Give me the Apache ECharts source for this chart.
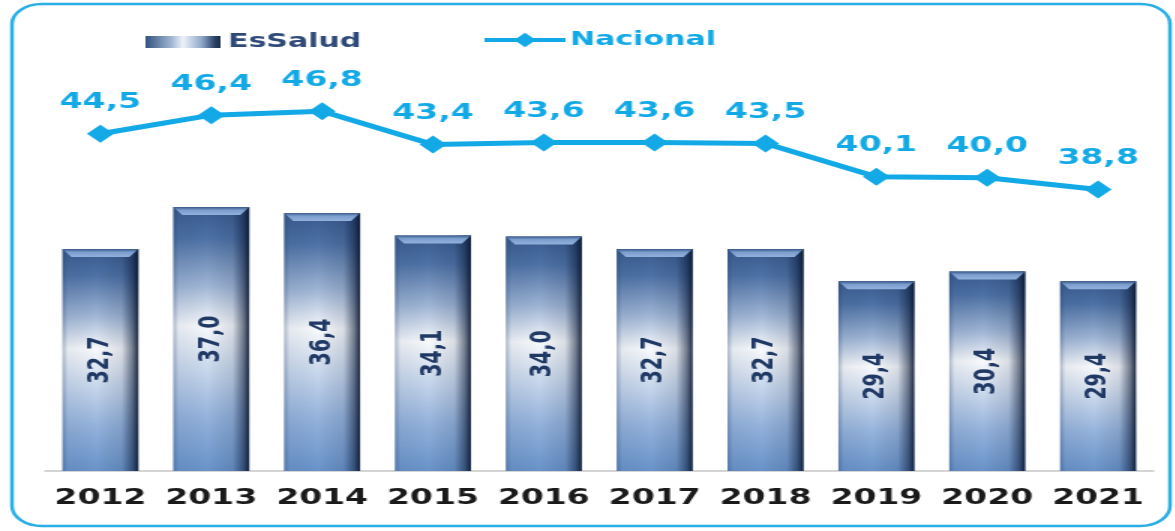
<!DOCTYPE html>
<html>
<head>
<meta charset="utf-8">
<script src="https://cdn.jsdelivr.net/npm/echarts@6/dist/echarts.min.js"></script>
<style>
  html, body { margin: 0; padding: 0; background: #fff; overflow: hidden; }
  /* the reference is drawn wide: render narrower and stretch sideways */
  #main { width: 783.33px; height: 531px; transform: scaleX(1.5); transform-origin: 0 0; }
</style>
</head>
<body>
<div id="main"></div>
<script>
// DATA
const years = ['2012', '2013', '2014', '2015', '2016', '2017', '2018', '2019', '2020', '2021']
const essalud = [32.7, 37.0, 36.4, 34.1, 34.0, 32.7, 32.7, 29.4, 30.4, 29.4]
const nacional = [44.5, 46.4, 46.8, 43.4, 43.6, 43.6, 43.5, 40.1, 40.0, 38.8]

const BLUE = '#12a9e6'
const NAVY = '#1f3864'
const FONT = '"DejaVu Sans", Verdana, sans-serif'
const fmt = v => v.toFixed(1).replace('.', ',')

const G = echarts.graphic

const barBody = () => new G.LinearGradient(0, 0, 0, 1, [
  { offset: 0, color: '#385a8e' },
  { offset: 0.12, color: '#4e72a6' },
  { offset: 0.3, color: '#a0b6d6' },
  { offset: 0.45, color: '#f8fafd' },
  { offset: 0.58, color: '#d3dff0' },
  { offset: 0.8, color: '#93b2dc' },
  { offset: 1, color: '#6993ca' }
])

const barShade = () => new G.LinearGradient(0, 0, 1, 0, [
  { offset: 0, color: 'rgba(30,55,95,0.35)' },
  { offset: 0.07, color: 'rgba(30,55,95,0.08)' },
  { offset: 0.45, color: 'rgba(0,0,0,0)' },
  { offset: 0.78, color: 'rgba(10,25,55,0.12)' },
  { offset: 0.92, color: 'rgba(10,25,55,0.55)' },
  { offset: 1, color: 'rgba(8,18,40,0.9)' }
])

const renderBar = (params, api) => {
  const i = api.value(0)
  const v = api.value(1)
  const top = api.coord([i, v])
  const base = api.coord([i, 10])
  const w = api.size([1, 0])[0] * 0.685
  const x0 = top[0] - w / 2
  const x1 = top[0] + w / 2
  const h = base[1] - top[1]
  const b = 6
  return {
    type: 'group',
    children: [
      { type: 'rect', shape: { x: x0, y: top[1], width: w, height: h }, style: { fill: barBody() } },
      { type: 'rect', shape: { x: x0, y: top[1], width: w, height: h }, style: { fill: barShade() } },
      {
        type: 'polygon',
        shape: { points: [[x0, top[1]], [x1, top[1]], [x1 - b, top[1] + 8], [x0 + b, top[1] + 8]] },
        style: {
          fill: new G.LinearGradient(0, 0, 0, 1, [
            { offset: 0, color: '#3a5a8c' },
            { offset: 0.4, color: '#7d9fcf' },
            { offset: 1, color: '#92b1dc' }
          ])
        }
      },
      {
        type: 'text',
        x: top[0],
        y: top[1] + h / 2,
        rotation: Math.PI / 2,
        style: {
          text: fmt(v),
          fill: NAVY,
          fontSize: 19,
          fontWeight: 'bold',
          fontFamily: FONT,
          align: 'center',
          verticalAlign: 'middle'
        }
      }
    ]
  }
}

const chart = echarts.init(document.getElementById('main'))
chart.setOption({
  animation: false,
  graphic: [{
    type: 'rect',
    shape: { x: 8, y: 4, width: 772, height: 522, r: 20 },
    style: { fill: 'none', stroke: '#2aaee6', lineWidth: 2.5 },
    silent: true
  }],
  legend: [{
    left: 92,
    top: 27,
    itemWidth: 50,
    itemHeight: 12,
    itemGap: 5,
    textStyle: { color: '#2f4a78', fontSize: 20, fontWeight: 'bold', fontFamily: FONT },
    data: [{
      name: 'EsSalud',
      icon: 'rect',
      itemStyle: {
        color: new G.LinearGradient(0, 0, 1, 0, [
          { offset: 0, color: '#33527f' },
          { offset: 0.35, color: '#a2b7d4' },
          { offset: 0.5, color: '#eef3f9' },
          { offset: 0.75, color: '#8ea7c9' },
          { offset: 0.92, color: '#2c446b' },
          { offset: 1, color: '#1b2b48' }
        ])
      }
    }]
  }, {
    left: 316,
    top: 25,
    itemWidth: 54,
    itemHeight: 18,
    textStyle: { color: BLUE, fontSize: 20, fontWeight: 'bold', fontFamily: FONT, padding: [0, 0, 0, -2] },
    data: [{ name: 'Nacional', lineStyle: { width: 4, color: BLUE } }]
  }],
  grid: { left: 30, right: 14, top: 80, bottom: 60 },
  xAxis: {
    type: 'category',
    data: years,
    axisTick: { show: false },
    axisLine: { lineStyle: { color: '#c8c8c8', width: 1.5 } },
    axisLabel: { interval: 0, margin: 16, color: '#1a1a1a', fontSize: 22, fontWeight: 'bold', fontFamily: FONT }
  },
  yAxis: { type: 'value', min: 10, max: 50, show: false, splitLine: { show: false } },
  series: [{
    name: 'EsSalud',
    type: 'custom',
    renderItem: renderBar,
    itemStyle: { color: '#5276a9' },
    data: years.map((y, i) => [i, essalud[i]]),
    z: 2
  }, {
    name: 'Nacional',
    type: 'line',
    data: nacional,
    color: BLUE,
    lineStyle: { width: 5, color: BLUE },
    symbol: 'diamond',
    symbolSize: 18,
    itemStyle: { color: BLUE },
    label: {
      show: true,
      position: 'top',
      distance: 11,
      formatter: p => fmt(p.value),
      color: BLUE,
      fontSize: 22,
      fontWeight: 'bold',
      fontFamily: FONT
    },
    z: 5
  }]
})
</script>
</body>
</html>
